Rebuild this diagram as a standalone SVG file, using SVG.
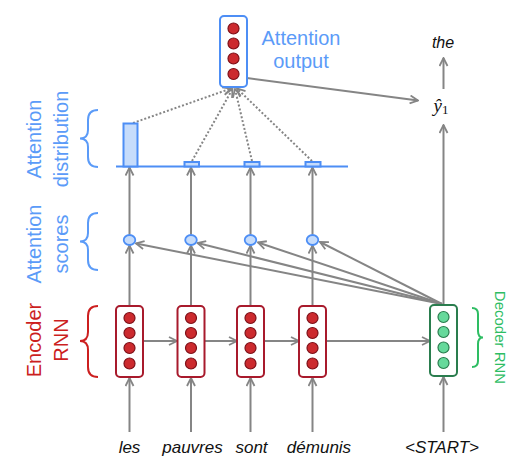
<svg xmlns="http://www.w3.org/2000/svg" width="519" height="474" viewBox="0 0 519 474">
<style>
.enc{fill:#fff;stroke:#a81a2c;stroke-width:2}
.ec{fill:#cc2a2e;stroke:#7d1018;stroke-width:1.2}
.dec{fill:#fff;stroke:#2a7d4e;stroke-width:2}
.dc{fill:#66d99b;stroke:#2a7d4e;stroke-width:1.2}
.att{fill:#fff;stroke:#4d8ef5;stroke-width:2}
.sc{fill:#c6dcfb;stroke:#4d8ef5;stroke-width:1.8}
.bar{fill:#c6dcfb;stroke:#4d8ef5;stroke-width:2}
.arr{stroke:#858585;stroke-width:2;fill:none;marker-end:url(#ah)}
.dot{stroke:#858585;stroke-width:2;fill:none;stroke-dasharray:2 2;marker-end:url(#ah)}
.lbl{font-family:"Liberation Sans",Arial,sans-serif;font-size:20px;text-anchor:middle}
.word{font-family:"Liberation Sans",Arial,sans-serif;font-size:17px;font-style:italic;text-anchor:middle;fill:#111}
.brace{fill:none;stroke-width:2}
</style>
<defs>
<marker id="ah" viewBox="0 0 10 10" refX="9" refY="5" markerWidth="10" markerHeight="10" markerUnits="userSpaceOnUse" orient="auto">
<path d="M1,1 L9,5 L1,9" fill="none" stroke="#858585" stroke-width="1.8"/>
</marker>
</defs>
<rect width="519" height="474" fill="#fff"/>

<g id="connectors">
<line class="arr" x1="129.5" y1="432" x2="129.5" y2="378"/>
<line class="arr" x1="191" y1="432" x2="191" y2="378"/>
<line class="arr" x1="250.5" y1="432" x2="250.5" y2="378"/>
<line class="arr" x1="312.5" y1="432" x2="312.5" y2="378"/>
<line class="arr" x1="443.5" y1="432" x2="443.5" y2="377"/>
<line class="arr" x1="143" y1="341" x2="177" y2="341"/>
<line class="arr" x1="205" y1="341" x2="237" y2="341"/>
<line class="arr" x1="264" y1="341" x2="299" y2="341"/>
<line class="arr" x1="326" y1="341" x2="430" y2="341"/>
<line class="arr" x1="129.5" y1="306" x2="129.5" y2="245.5"/>
<line class="arr" x1="191" y1="306" x2="191" y2="245.5"/>
<line class="arr" x1="250.5" y1="306" x2="250.5" y2="245.5"/>
<line class="arr" x1="312.5" y1="306" x2="312.5" y2="245.5"/>
<line class="arr" x1="442" y1="304" x2="136" y2="243.5"/>
<line class="arr" x1="442" y1="304" x2="197.5" y2="243"/>
<line class="arr" x1="442" y1="304" x2="258" y2="242.5"/>
<line class="arr" x1="442" y1="304" x2="320" y2="242"/>
<line class="arr" x1="129.5" y1="234.5" x2="129.5" y2="167.5"/>
<line class="arr" x1="191" y1="234.5" x2="191" y2="167.5"/>
<line class="arr" x1="250.5" y1="234.5" x2="250.5" y2="167.5"/>
<line class="arr" x1="312.5" y1="234.5" x2="312.5" y2="167.5"/>
<line class="dot" x1="133" y1="123" x2="231" y2="88.5"/>
<line class="dot" x1="192" y1="161" x2="232.5" y2="89"/>
<line class="dot" x1="252" y1="161" x2="235" y2="89"/>
<line class="dot" x1="312" y1="161" x2="237" y2="88.5"/>
<line class="arr" x1="247" y1="78" x2="418" y2="100.5"/>
<line class="arr" x1="443.5" y1="305" x2="443.5" y2="125"/>
<line class="arr" x1="443.5" y1="89" x2="443.5" y2="58"/>
</g>

<g id="distribution">
<line x1="116" y1="166.5" x2="348" y2="166.5" stroke="#4d8ef5" stroke-width="2"/>
<rect class="bar" x="123.5" y="123.5" width="14" height="43"/>
<rect class="bar" x="184.5" y="162" width="14.5" height="4.5"/>
<rect class="bar" x="244.5" y="162" width="15" height="4.5"/>
<rect class="bar" x="305.5" y="162" width="15" height="4.5"/>
</g>

<g id="scores">
<ellipse class="sc" cx="129.5" cy="240" rx="5.8" ry="5"/>
<ellipse class="sc" cx="191" cy="240" rx="5.8" ry="5"/>
<ellipse class="sc" cx="250.5" cy="240" rx="5.8" ry="5"/>
<ellipse class="sc" cx="312.5" cy="240" rx="5.8" ry="5"/>
</g>

<g id="enc1">
<rect class="enc" x="116" y="306" width="27" height="71" rx="4"/>
<circle class="ec" cx="129.5" cy="318" r="5.5"/><circle class="ec" cx="129.5" cy="333" r="5.5"/><circle class="ec" cx="129.5" cy="348" r="5.5"/><circle class="ec" cx="129.5" cy="363.5" r="5.5"/>
</g>
<g id="enc2">
<rect class="enc" x="177.5" y="306" width="27" height="71" rx="4"/>
<circle class="ec" cx="191" cy="318" r="5.5"/><circle class="ec" cx="191" cy="333" r="5.5"/><circle class="ec" cx="191" cy="348" r="5.5"/><circle class="ec" cx="191" cy="363.5" r="5.5"/>
</g>
<g id="enc3">
<rect class="enc" x="237" y="306" width="27" height="71" rx="4"/>
<circle class="ec" cx="250.5" cy="318" r="5.5"/><circle class="ec" cx="250.5" cy="333" r="5.5"/><circle class="ec" cx="250.5" cy="348" r="5.5"/><circle class="ec" cx="250.5" cy="363.5" r="5.5"/>
</g>
<g id="enc4">
<rect class="enc" x="299" y="306" width="27" height="71" rx="4"/>
<circle class="ec" cx="312.5" cy="318" r="5.5"/><circle class="ec" cx="312.5" cy="333" r="5.5"/><circle class="ec" cx="312.5" cy="348" r="5.5"/><circle class="ec" cx="312.5" cy="363.5" r="5.5"/>
</g>
<g id="dec1">
<rect class="dec" x="430" y="305" width="27" height="71" rx="4"/>
<circle class="dc" cx="443.5" cy="317" r="5.5"/><circle class="dc" cx="443.5" cy="332" r="5.5"/><circle class="dc" cx="443.5" cy="347.5" r="5.5"/><circle class="dc" cx="443.5" cy="363" r="5.5"/>
</g>
<g id="attout">
<rect class="att" x="220" y="16" width="27" height="71" rx="4"/>
<circle class="ec" cx="233.5" cy="28.5" r="5.5"/><circle class="ec" cx="233.5" cy="43.5" r="5.5"/><circle class="ec" cx="233.5" cy="58.5" r="5.5"/><circle class="ec" cx="233.5" cy="74" r="5.5"/>
<text class="lbl" x="301" y="45" fill="#5b9bf8">Attention</text>
<text class="lbl" x="301" y="68" fill="#5b9bf8">output</text>
</g>

<g id="yhat">
<text x="441" y="112" font-family="Liberation Serif,serif" font-size="19" font-style="italic" text-anchor="middle" fill="#111">ŷ<tspan font-style="normal" font-size="13" dy="2">1</tspan></text>
</g>
<g id="the">
<text x="443" y="48" class="word" style="font-size:16px">the</text>
</g>

<g id="words">
<text class="word" x="129.5" y="453">les</text>
<text class="word" x="192.5" y="453">pauvres</text>
<text class="word" x="251.5" y="453">sont</text>
<text class="word" x="319" y="453">démunis</text>
<text class="word" x="442" y="453">&lt;START&gt;</text>
</g>

<g id="labels">
<text class="lbl" fill="#5b9bf8" transform="translate(41,139) rotate(-90)">Attention</text>
<text class="lbl" fill="#5b9bf8" transform="translate(68,139) rotate(-90)">distribution</text>
<text class="lbl" fill="#5b9bf8" transform="translate(41,244) rotate(-90)">Attention</text>
<text class="lbl" fill="#5b9bf8" transform="translate(68,244) rotate(-90)">scores</text>
<text class="lbl" fill="#cc1f1f" transform="translate(41,340) rotate(-90)">Encoder</text>
<text class="lbl" fill="#cc1f1f" transform="translate(68,340) rotate(-90)">RNN</text>
<text class="lbl" fill="#2ebd63" style="font-size:15px" transform="translate(494.5,337.5) rotate(90)">Decoder RNN</text>
</g>

<g id="braces">
<path class="brace" stroke="#5b9bf8" d="M98,110 Q88,110 88,120 L88,130 Q88,138.5 80,138.5 Q88,138.5 88,147 L88,157 Q88,167 98,167"/>
<path class="brace" stroke="#5b9bf8" d="M98,213 Q88,213 88,223 L88,233 Q88,241.5 80,241.5 Q88,241.5 88,250 L88,260 Q88,270 98,270"/>
<path class="brace" stroke="#cc1f1f" d="M98,306 Q88,306 88,316 L88,332 Q88,341 80,341 Q88,341 88,350 L88,367 Q88,377 98,377"/>
<path class="brace" stroke="#2ebd63" d="M472,308 Q478,308 478,314 L478,331 Q478,337.5 483,337.5 Q478,337.5 478,344 L478,361 Q478,367 472,367"/>
</g>
</svg>
